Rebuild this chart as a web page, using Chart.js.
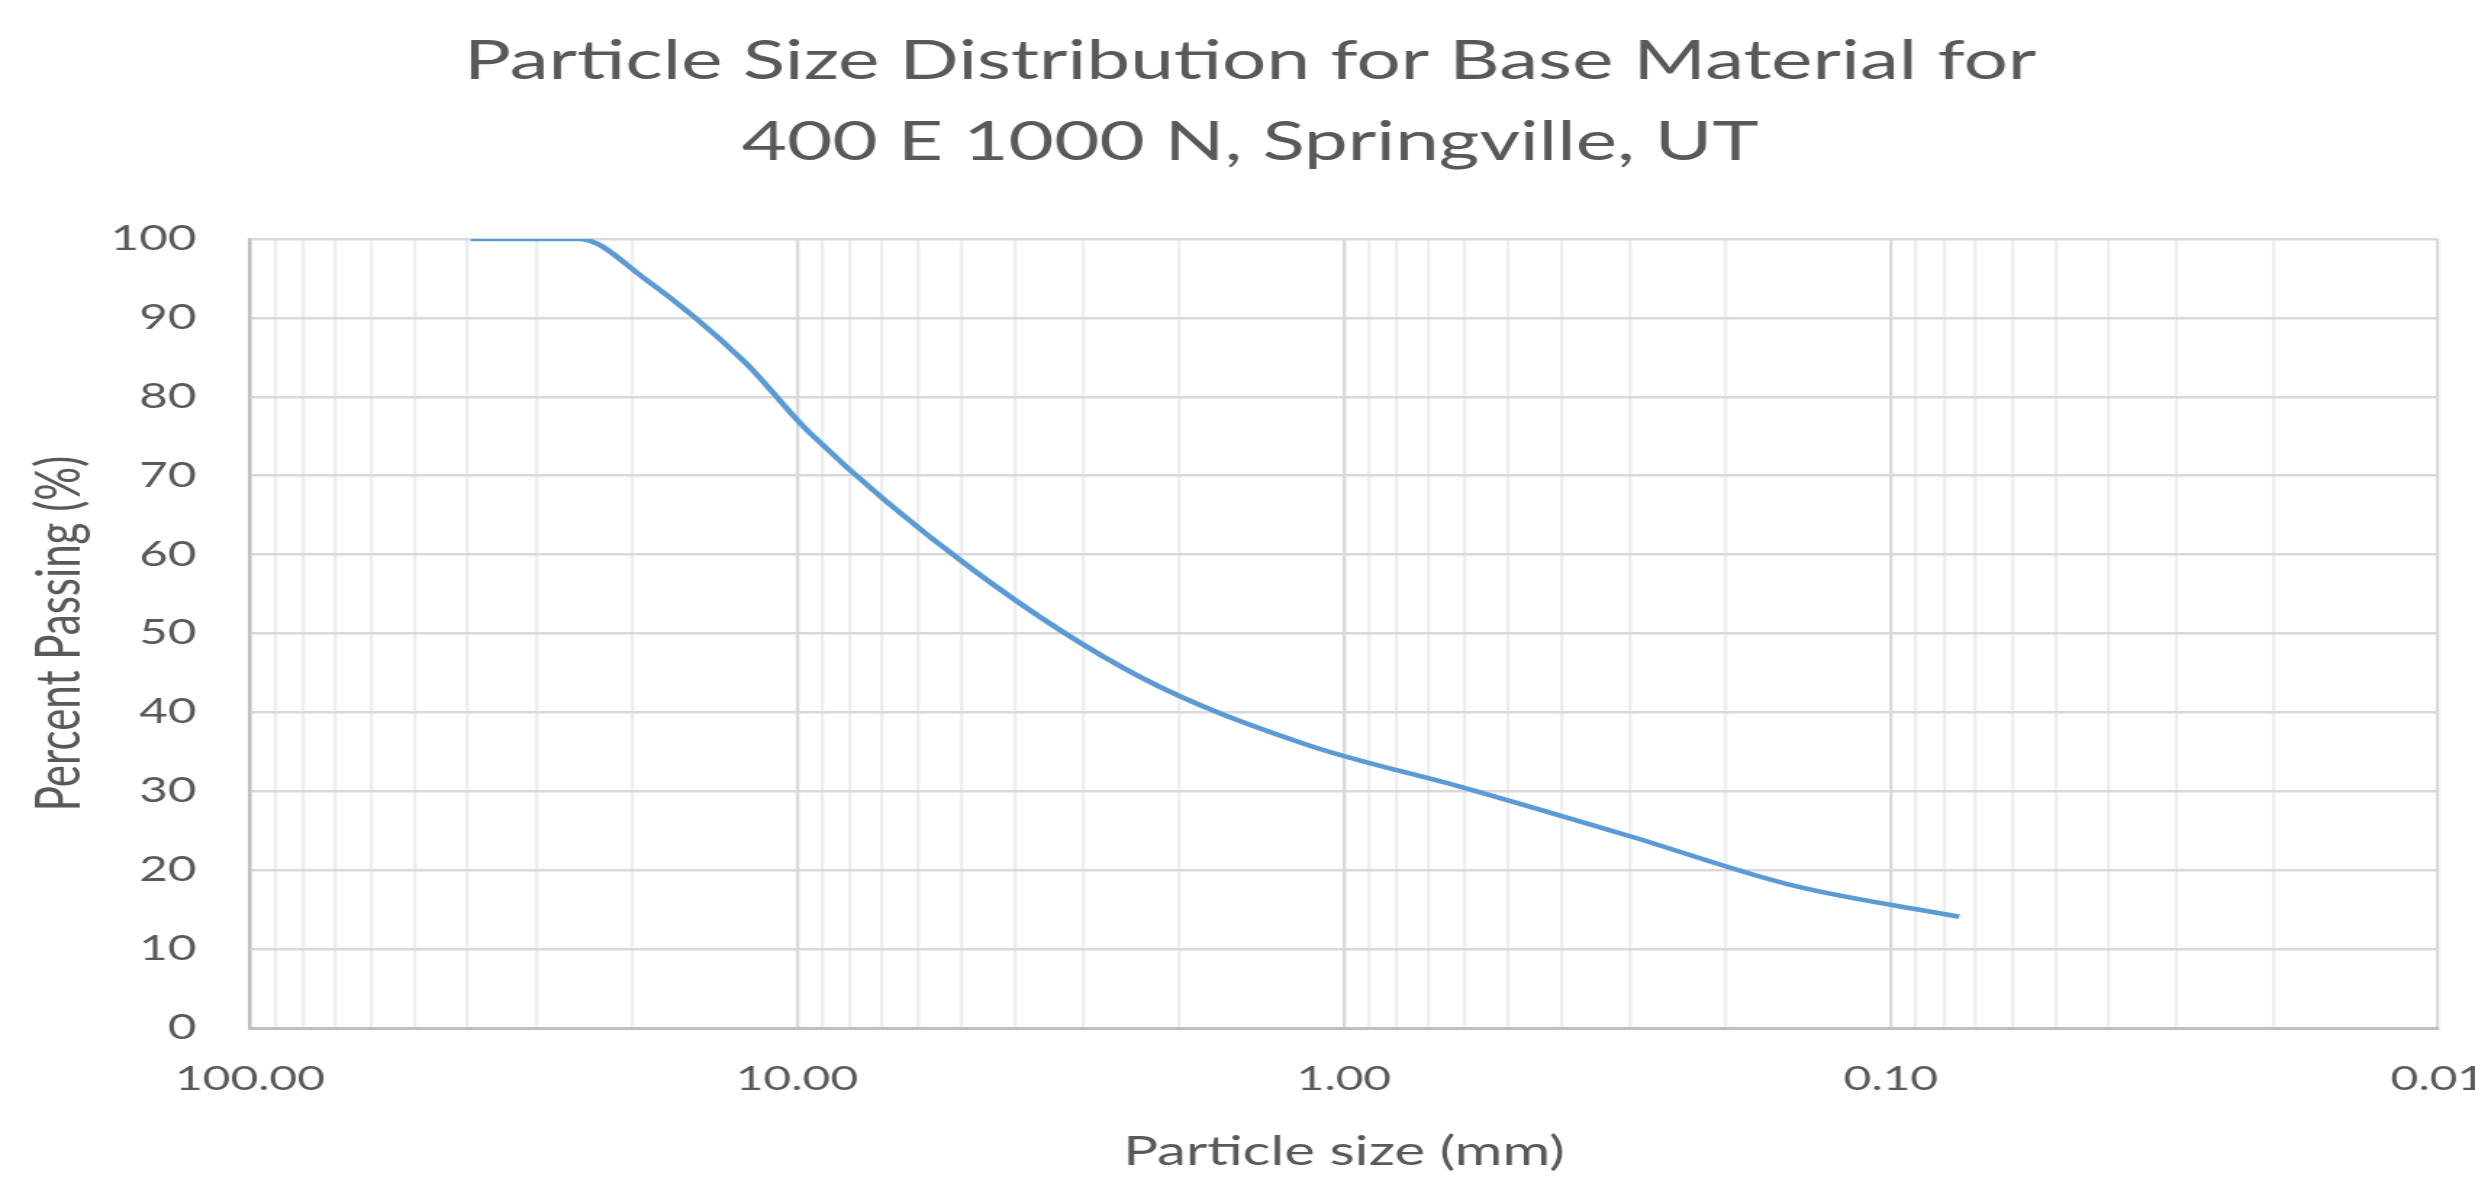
<!DOCTYPE html>
<html>
<head>
<meta charset="utf-8">
<script src="https://cdn.jsdelivr.net/npm/chart.js@4/dist/chart.umd.min.js"></script>
<style>
html,body{margin:0;padding:0;background:#ffffff;overflow:hidden}
#c{display:block;width:2475px !important;height:1182px !important}
</style>
</head>
<body>
<canvas id="c" width="1707" height="1182" style="width:2475px;height:1182px;display:block"></canvas>
<script>
// ---- data ----
const chartTitle = ['Particle Size Distribution for Base Material for', '400 E 1000 N, Springville, UT'];
const xAxisTitle = 'Particle size (mm)';
const yAxisTitle = 'Percent Passing (%)';
const sieveSizes = [39.5, 25, 19, 12.5, 9.5, 4.75, 2.36, 1.18, 0.6, 0.3, 0.15, 0.075];
const percentPassing = [100, 100, 95, 84.5, 75.5, 58, 44.5, 36, 30.4, 24.3, 18, 14.1];
const xDecades = [100, 10, 1, 0.1, 0.01];
const xTickLabels = ['100.00', '10.00', '1.00', '0.10', '0.01'];
const yTickValues = [0, 10, 20, 30, 40, 50, 60, 70, 80, 90, 100];

// ---- build ----
const points = sieveSizes.map((s, i) => ({x: s, y: percentPassing[i]}));
const xGridValues = [100];
for (let d = 1; d < xDecades.length; d++) {
  const base = xDecades[d];
  for (let m = 9; m >= 1; m--) xGridValues.push(+(base * m).toPrecision(6));
}
const decadeLabel = v => {
  const i = xDecades.findIndex(d => Math.abs(d - v) / d < 1e-9);
  return i >= 0 ? xTickLabels[i] : '';
};
const isDecade = v => decadeLabel(v) !== '';

const TEXT = '#595959';
Chart.defaults.font.family = 'Lato';
Chart.defaults.color = TEXT;

const whiteBg = {
  id: 'whiteBg',
  beforeDraw(chart) {
    const ctx = chart.ctx;
    ctx.save();
    ctx.fillStyle = '#ffffff';
    ctx.fillRect(0, 0, chart.width, chart.height);
    ctx.restore();
  }
};

new Chart(document.getElementById('c'), {
  type: 'line',
  data: {
    datasets: [{
      data: points,
      borderColor: '#5B9BD5',
      borderWidth: 4.5,
      pointRadius: 0,
      pointHoverRadius: 0,
      fill: false,
      cubicInterpolationMode: 'monotone'
    }]
  },
  options: {
    responsive: false,
    animation: false,
    devicePixelRatio: 1,
    layout: {padding: {left: 43, right: 25.6, top: 0, bottom: 0}},
    plugins: {
      legend: {display: false},
      tooltip: {enabled: false},
      title: {
        display: true,
        text: chartTitle,
        color: TEXT,
        font: {family: 'Lato', size: 54, weight: 'normal', lineHeight: 81 / 54},
        padding: {top: 20.6, bottom: 56.4}
      }
    },
    scales: {
      x: {
        type: 'logarithmic',
        min: 0.01,
        max: 100,
        reverse: true,
        afterBuildTicks: scale => { scale.ticks = xGridValues.map(v => ({value: v, major: isDecade(v)})); },
        afterFit: scale => { scale.height = 154; scale.paddingLeft = 0; scale.paddingRight = 0; },
        ticks: {
          autoSkip: false,
          maxRotation: 0,
          minRotation: 0,
          padding: 31.7,
          color: TEXT,
          font: {family: 'Lato', size: 33},
          callback: v => decadeLabel(v)
        },
        grid: {
          drawTicks: false,
          lineWidth: 2.3,
          color: ctx => (ctx.tick && isDecade(ctx.tick.value)) ? '#D9D9D9' : '#EEEEEE'
        },
        border: {display: true, color: '#BFBFBF', width: 3},
        title: {
          display: true,
          text: xAxisTitle,
          color: TEXT,
          font: {family: 'Lato', size: 40},
          padding: {top: 0, bottom: 5.5}
        }
      },
      y: {
        type: 'linear',
        min: 0,
        max: 100,
        afterBuildTicks: scale => { scale.ticks = yTickValues.map(v => ({value: v})); },
        afterFit: scale => { scale.width = 129.4; },
        ticks: {
          padding: 37,
          color: TEXT,
          font: {family: 'Lato', size: 34}
        },
        grid: {drawTicks: false, lineWidth: 2.5, color: '#D9D9D9'},
        border: {display: true, color: '#BFBFBF', width: 2.5},
        title: {
          display: true,
          text: yAxisTitle,
          color: TEXT,
          font: {family: 'Lato', size: 42},
          padding: {top: -27, bottom: 0}
        }
      }
    }
  },
  plugins: [whiteBg]
});
</script>
</body>
</html>
